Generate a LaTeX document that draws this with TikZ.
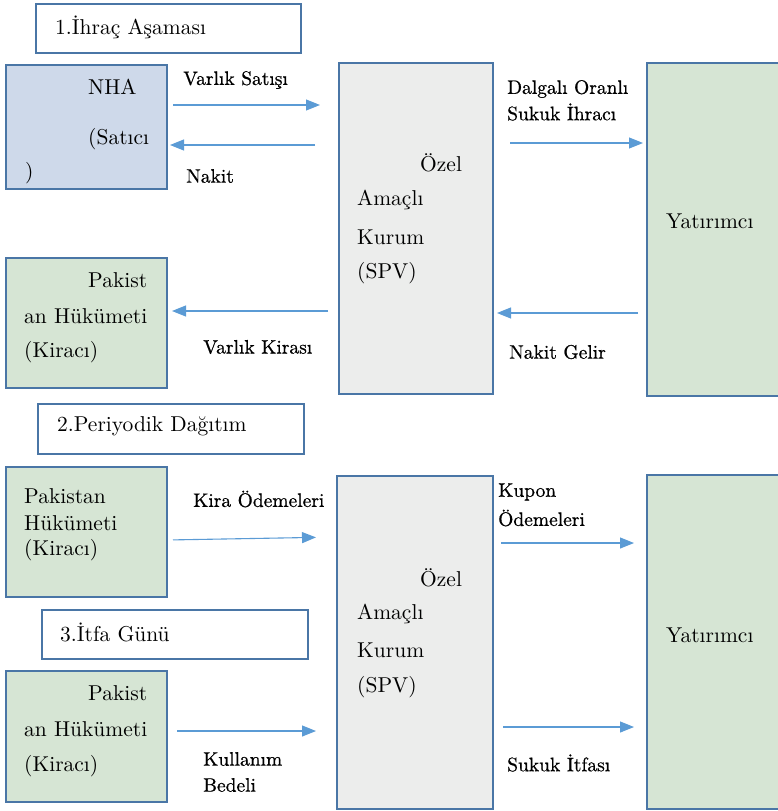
\documentclass[tikz,border=0pt]{standalone}
\usepackage{fontspec}
\newfontfamily\boxface{lmroman10-regular.otf}
\newfontfamily\lblface{lmroman10-regular.otf}[FakeBold=0.7]
\usetikzlibrary{arrows.meta}
\definecolor{edgeblue}{HTML}{4A76A6}
\definecolor{flowblue}{HTML}{5B9BD5}
\definecolor{nhafill}{HTML}{CED9EA}
\definecolor{greenfill}{HTML}{D6E5D4}
\definecolor{grayfill}{HTML}{ECEDEC}
\tikzset{
  box/.style={draw=edgeblue, line width=2pt, inner sep=0pt, outer sep=0pt, anchor=north west},
  flow/.style={draw=flowblue, line width=1.1pt, -{Triangle[length=14pt,width=11pt]}},
  txt/.style={anchor=west, inner sep=0pt, font=\boxface\fontsize{21.5}{26}\selectfont},
  lbl/.style={anchor=west, inner sep=0pt, font=\lblface\fontsize{19.5}{24}\selectfont}
}
\begin{document}
\begin{tikzpicture}[x=1pt, y=-1pt]
  \useasboundingbox (0,0) rectangle (778,811);
  % 1. ihrac asamasi
  \node[box, fill=white, minimum width=265pt, minimum height=49pt] (t1) at (36,4) {};
  \node[box, fill=nhafill, minimum width=161pt, minimum height=124pt] (nha) at (6,65) {};
  \node[box, fill=grayfill, minimum width=154pt, minimum height=331pt] (spvA) at (339,63) {};
  \node[box, fill=greenfill, minimum width=150pt, minimum height=333pt] (yatA) at (647,63) {};
  \node[box, fill=greenfill, minimum width=161pt, minimum height=130pt] (pkA) at (6,258) {};
  \node[txt] (t1txt) at (55,27) {1.İhraç Aşaması};
  \node[txt] (nha1) at (88,87) {NHA};
  \node[txt] (nha2) at (88,139) {(Satıcı};
  \node[txt] (nha3) at (25,173) {)};
  \node[txt] (spvA1) at (420,163) {Özel};
  \node[txt] (spvA2) at (357,200) {Amaçlı};
  \node[txt] (spvA3) at (357,237) {Kurum};
  \node[txt] (spvA4) at (357,273) {(SPV)};
  \node[txt] (yatA1) at (666,221) {Yatırımcı};
  \node[txt] (pkA1) at (88,280) {Pakist};
  \node[txt] (pkA2) at (24,316) {an Hükümeti};
  \node[txt] (pkA3) at (24,352) {(Kiracı)};
  \node[lbl] (satis) at (183,80) {Varlık Satışı};
  \node[lbl] (nakit) at (186,176) {Nakit};
  \node[lbl] (ihrac1) at (507,89) {Dalgalı Oranlı};
  \node[lbl] (ihrac2) at (507,112) {Sukuk İhracı};
  \node[lbl] (kirasi) at (203,347) {Varlık Kirası};
  \node[lbl] (gelir) at (509,352) {Nakit Gelir};
  \draw[flow, shorten <=6pt, shorten >=19pt] (nha.east |- 0,105) -- (spvA.west |- 0,105);
  \draw[flow, shorten <=24pt, shorten >=3pt] (spvA.west |- 0,145) -- (nha.east |- 0,145);
  \draw[flow, shorten <=17pt, shorten >=4pt] (spvA.east |- 0,143) -- (yatA.west |- 0,143);
  \draw[flow, shorten <=11pt, shorten >=5pt] (spvA.west |- 0,311) -- (pkA.east |- 0,311);
  \draw[flow, shorten <=9pt, shorten >=4pt] (yatA.west |- 0,313) -- (spvA.east |- 0,313);
  % 2. periyodik dagitim
  \node[box, fill=white, minimum width=266pt, minimum height=50pt] (t2) at (38,404) {};
  \node[box, fill=greenfill, minimum width=161pt, minimum height=130pt] (pkB) at (6,467) {};
  \node[box, fill=grayfill, minimum width=156pt, minimum height=333pt] (spvB) at (337,476) {};
  \node[box, fill=greenfill, minimum width=150pt, minimum height=334pt] (yatB) at (647,475) {};
  \node[txt] (t2txt) at (57,426) {2.Periyodik Dağıtım};
  \node[txt] (pkB1) at (24,496) {Pakistan};
  \node[txt] (pkB2) at (24,523) {Hükümeti};
  \node[txt] (pkB3) at (24,550) {(Kiracı)};
  \node[txt] (spvB1) at (420,578) {Özel};
  \node[txt] (spvB2) at (357,614) {Amaçlı};
  \node[txt] (spvB3) at (357,650) {Kurum};
  \node[txt] (spvB4) at (357,687) {(SPV)};
  \node[txt] (yatB1) at (666,635) {Yatırımcı};
  \node[lbl] (kira) at (193,499) {Kira Ödemeleri};
  \node[lbl] (kupon1) at (498,492) {Kupon};
  \node[lbl] (kupon2) at (498,518) {Ödemeleri};
  \draw[flow, shorten <=6pt, shorten >=21pt] (pkB.east |- 0,540) -- (spvB.west |- 0,537);
  \draw[flow, shorten <=8pt, shorten >=13pt] (spvB.east |- 0,543) -- (yatB.west |- 0,543);
  % 3. itfa gunu
  \node[box, fill=white, minimum width=266pt, minimum height=49pt] (t3) at (42,610) {};
  \node[box, fill=greenfill, minimum width=161pt, minimum height=131pt] (pkC) at (6,671) {};
  \node[txt] (t3txt) at (60,632) {3.İtfa Günü};
  \node[txt] (pkC1) at (88,693) {Pakist};
  \node[txt] (pkC2) at (24,729) {an Hükümeti};
  \node[txt] (pkC3) at (24,766) {(Kiracı)};
  \node[lbl] (bedel1) at (203,759) {Kullanım};
  \node[lbl] (bedel2) at (203,785) {Bedeli};
  \node[lbl] (itfa) at (507,763) {Sukuk İtfası};
  \draw[flow, shorten <=10pt, shorten >=21pt] (pkC.east |- 0,731) -- (spvB.west |- 0,731);
  \draw[flow, shorten <=10pt, shorten >=13pt] (spvB.east |- 0,727) -- (yatB.west |- 0,727);
\end{tikzpicture}
\end{document}
